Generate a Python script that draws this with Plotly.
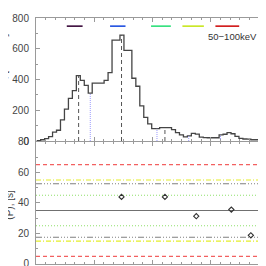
import numpy as np
import plotly.graph_objects as go

# ---------------- data ----------------
bin_start = 0.71          # s, first bin edge
bin_width = 4.085         # s
counts = [3, 8, 15, 28, 58, 70, 138, 207, 277, 328, 425, 394, 362, 311, 377, 377, 377,
          394, 445, 656, 656, 688, 589, 589, 408, 356, 229, 154, 112, 80, 80, 87, 87, 87,
          74, 55, 40, 27, 33, 49, 45, 25, 22, 21, 21, 21, 40, 44, 55, 47, 30, 17, 13, 12,
          8, 8, 3, 3, 1]
peak_times = [43.9, 88.1, 132.8]            # dashed markers
trough_times = [55.9, 124.6, 157.3, 190.0]  # dotted markers
bar_ranges = [(31.7, 48.0), (76.3, 92.2), (118.5, 138.9), (150.8, 172.9), (184.8, 209.3)]
bar_level = 747
bar_colors = ["#3a0a3a", "#1f4fe0", "#2ee07a", "#c8e61e", "#d01414"]
energy_label = "50\u2212100keV"

period_t = [88.1, 132.8, 165.1, 201.2, 221.3]
period_p = [43.9, 43.9, 31.3, 35.6, 18.8]
p_mean = 35.0
bands = [  # (offset, colour, dash)
    (30.0, "#f26060", "4px,3px"),
    (20.0, "#e4ee2a", "5px,2px,1px,2px"),
    (17.5, "#808080", "6px,2px,1px,2px,1px,2px,1px,2px"),
    (10.0, "#8ee06a", "1px,2px"),
]
x_range = [0, 240]

# ---------------- figure ----------------
edges = bin_start + bin_width * np.arange(len(counts) + 1)
fig = go.Figure()

fig.add_trace(go.Scatter(x=edges, y=list(counts) + [counts[-1]], mode="lines",
                         line=dict(shape="hv", color="#454545", width=1.3),
                         xaxis="x2", yaxis="y2", showlegend=False))

def height_at(t):
    i = int(np.clip(np.searchsorted(edges, t) - 1, 0, len(counts) - 1))
    return counts[i]

vx, vy = [], []
for t in peak_times:
    vx += [t, t, None]; vy += [0, height_at(t), None]
fig.add_trace(go.Scatter(x=vx, y=vy, mode="lines",
                         line=dict(color="#555555", width=1, dash="4px,3px"),
                         xaxis="x2", yaxis="y2", showlegend=False))
vx, vy = [], []
for t in trough_times:
    vx += [t, t, None]; vy += [0, height_at(t), None]
fig.add_trace(go.Scatter(x=vx, y=vy, mode="lines",
                         line=dict(color="#9a9aff", width=1, dash="1px,1px"),
                         xaxis="x2", yaxis="y2", showlegend=False))

for (a, b), c in zip(bar_ranges, bar_colors):
    fig.add_trace(go.Scatter(x=[a, b], y=[bar_level, bar_level], mode="lines",
                             line=dict(color=c, width=1.6),
                             xaxis="x2", yaxis="y2", showlegend=False))

# bottom panel
for off, col, dash in bands:
    for lvl in (p_mean + off, p_mean - off):
        fig.add_trace(go.Scatter(x=x_range, y=[lvl, lvl], mode="lines",
                                 line=dict(color=col, width=1.1, dash=dash),
                                 showlegend=False))
fig.add_trace(go.Scatter(x=x_range, y=[p_mean, p_mean], mode="lines",
                         line=dict(color="#707070", width=1.2), showlegend=False))
fig.add_trace(go.Scatter(x=period_t, y=period_p, mode="markers",
                         marker=dict(symbol="diamond-open", size=4, color="#333333",
                                     line=dict(width=1.1, color="#333333")),
                         showlegend=False))

axcol = "#9a9a9a"
common_x = dict(range=x_range, showticklabels=False, ticks="inside", ticklen=4,
                tickcolor=axcol, dtick=60, tick0=0, showline=True, linecolor=axcol,
                linewidth=1, mirror="allticks", showgrid=False, zeroline=False,
                minor=dict(ticks="inside", ticklen=2, dtick=10, tickcolor=axcol))
tickfont = dict(family="Liberation Sans", size=10, color="#444444")
common_y = dict(ticks="inside", ticklen=4, tickcolor=axcol, showline=True,
                linecolor=axcol, linewidth=1, mirror="allticks", showgrid=False,
                zeroline=False, tickfont=tickfont, ticklabelstandoff=4)

fig.update_layout(
    width=266, height=266, margin=dict(l=27, r=4, t=4, b=6),
    paper_bgcolor="white", plot_bgcolor="white",
    xaxis=dict(domain=[0, 1], anchor="y", **common_x),
    yaxis=dict(domain=[0, 0.497], range=[0, 80], dtick=20,
               minor=dict(ticks="inside", ticklen=2, dtick=10, tickcolor=axcol),
               anchor="x", **common_y),
    xaxis2=dict(domain=[0, 1], anchor="y2", **common_x),
    yaxis2=dict(domain=[0.5, 1], range=[0, 800], dtick=200,
                minor=dict(ticks="inside", ticklen=2, dtick=100, tickcolor=axcol),
                anchor="x2", **common_y),
    annotations=[
        dict(text=energy_label, x=229.5, y=680, xref="x2", yref="y2",
             xanchor="right", yanchor="middle", showarrow=False,
             font=dict(family="Liberation Sans", size=9.5, color="#333333")),
        dict(text="Count rate, [s\u207b\u00b9 det\u207b\u00b9]", x=-0.14, y=0.75,
             xref="paper", yref="paper", textangle=-90, showarrow=False,
             xanchor="center", yanchor="middle",
             font=dict(family="Liberation Sans", size=10, color="#444444")),
        dict(text="(P), [s]", x=-0.113, y=0.24, xref="paper", yref="paper",
             textangle=-90, showarrow=False, xanchor="center", yanchor="middle",
             font=dict(family="Liberation Sans", size=10, color="#444444")),
    ],
)

fig.write_html("out.html")
